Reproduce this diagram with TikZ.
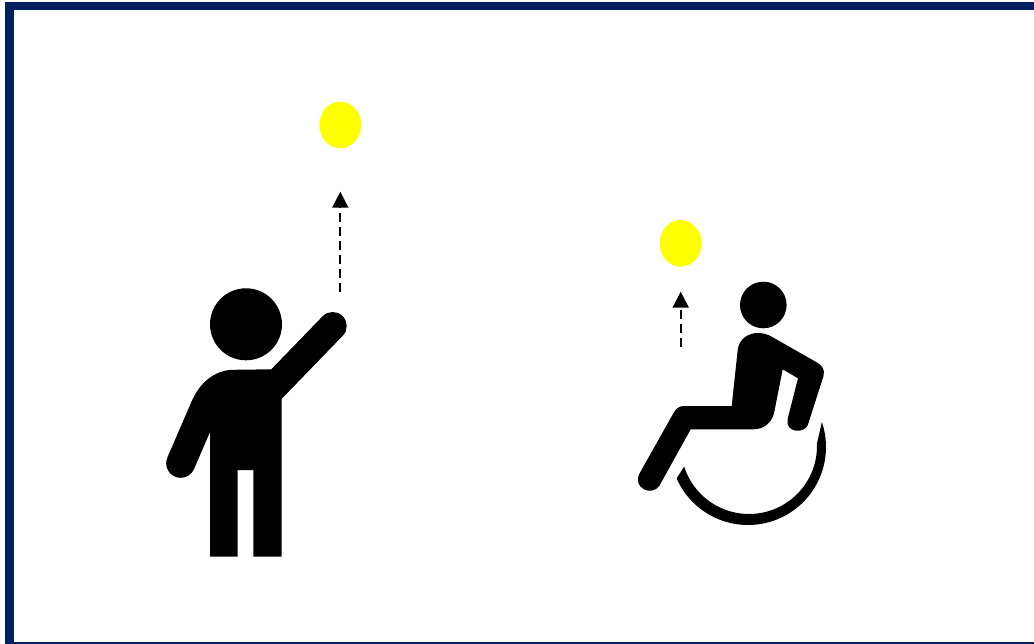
\documentclass[tikz,border=0pt]{standalone}
\usetikzlibrary{arrows.meta,shapes.geometric}
\definecolor{frameblue}{HTML}{002060}
\definecolor{balloonyellow}{HTML}{FFFF00}
\tikzset{
  frame/.style={fill=frameblue,draw=none},
  figure/.style={fill=black,draw=none},
  limb/.style={draw=black,line cap=round},
  balloon/.style={ellipse,fill=balloonyellow,draw=none,inner sep=0pt,minimum width=42pt,minimum height=46.6pt},
  riser/.style={draw=black,line width=1.7pt,dash pattern=on 9pt off 5pt,-{Triangle[length=16pt,width=16pt]}}
}
\begin{document}
\begin{tikzpicture}[x=1pt,y=-1pt]
\useasboundingbox (0,0) rectangle (1034,644);
\fill[white] (0,0) rectangle (1034,644);
% frame
\path[frame] (5,2) rectangle (1034,10);
\path[frame] (5,2) rectangle (13.5,644);
\path[frame] (5,642) rectangle (1034,644);
% standing person
\fill[figure] (246,324.3) circle[radius=36];
\path[figure] (233,369.8) -- (271.7,369.3) -- (281.7,398.3) -- (281.7,556.7) -- (253.3,556.7) -- (253.3,470)
  -- (237.7,470) -- (237.7,556.7) -- (210,556.7) -- (210,433) -- (191.7,401.7)
  .. controls (199,383) and (215,370) .. (233,369.8) -- cycle;
\draw[limb,line width=28pt] (262.2,398.8) -- (332.7,326);
\draw[limb,line width=29pt] (180.7,463.3) -- (205,407);
% wheelchair person
\fill[figure] (763.3,305) circle[radius=23.3];
\path[figure] (731.7,406) -- (737.7,350) .. controls (739,339) and (748,333) .. (758,333)
  .. controls (763,333) and (768,334.5) .. (771.7,336.7) -- (817,362.5)
  .. controls (822.5,365.5) and (825,370) .. (823.5,376) -- (808,424.5)
  .. controls (805,434) and (785,433) .. (787.5,419.5) -- (798,378.3) -- (782.7,369.3) -- (774,413.3)
  .. controls (771,424) and (763,429.3) .. (753.3,429.3) -- (690.7,429.3) -- (659.5,485.5)
  .. controls (652,497) and (632,488) .. (639.5,473.5) -- (673,414)
  .. controls (676,408.5) and (679,406) .. (684,406) -- cycle;
% wheel
\path[figure] plot[domain=-18.7:156.3,samples=60] ({748+78*cos(\x)},{447+78*sin(\x)})
  -- plot[domain=162.3:-2,samples=60] ({749+68*cos(\x)},{446+68*sin(\x)}) -- cycle;
% balloons and arrows
\node[balloon] (ballA) at (340.3,125) {};
\node[balloon] (ballB) at (680.7,243.3) {};
\coordinate (a0) at (340.3,291.7);
\coordinate (a1) at (340.3,191.7);
\coordinate (b0) at (680.7,347.3);
\coordinate (b1) at (680.7,291.7);
\draw[riser] (a0) -- (a1);
\draw[riser] (b0) -- (b1);
\end{tikzpicture}
\end{document}
